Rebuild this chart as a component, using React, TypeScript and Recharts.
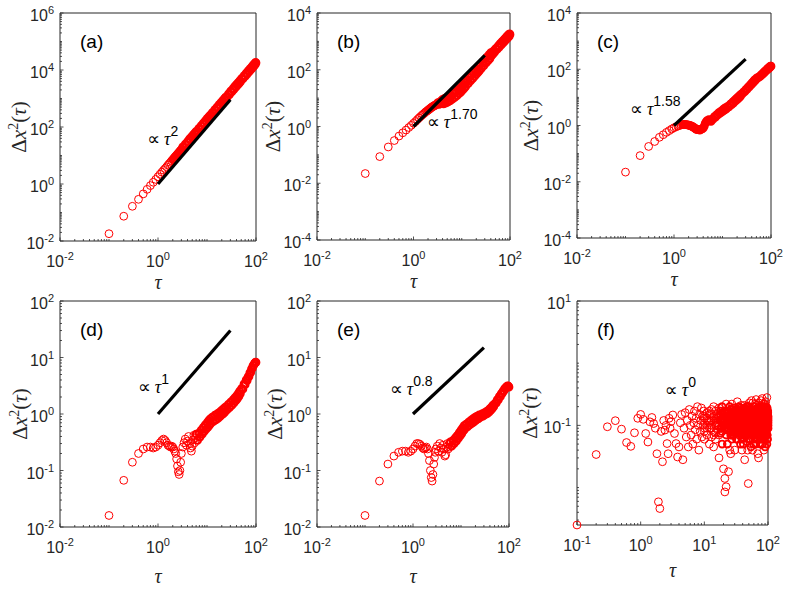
import React from "react";
import { ScatterChart, Scatter, XAxis, YAxis, Customized } from "recharts";

// lag times shared by panels (a)-(e)
const TAU = [
  0.1, 0.2, 0.3, 0.4, 0.5, 0.6, 0.7, 0.8, 0.9, 1.0,
  1.1, 1.2, 1.3, 1.4, 1.5, 1.6, 1.7, 1.8, 1.9, 2.0,
  2.1, 2.2, 2.3, 2.4, 2.5, 2.6, 2.7, 2.8, 2.9, 3.0,
  3.2, 3.4, 3.6, 3.8, 4.0, 4.2, 4.4, 4.6, 4.8, 5.0, 5.2, 5.4, 5.6, 5.8, 6.0,
  6.4, 6.8, 7.2, 7.6, 8.0, 8.4, 8.8, 9.2, 9.6, 10, 10.4, 10.8, 11.2, 11.6, 12,
  12.8, 13.6, 14.4, 15.2, 16, 16.8, 17.6, 18.4, 19.2, 20, 20.8, 21.6, 22.4, 23.2, 24,
  25.6, 27.2, 28.8, 30.4, 32, 33.6, 35.2, 36.8, 38.4, 40, 41.6, 43.2, 44.8, 46.4, 48,
  51, 54, 57, 60, 63, 66, 69, 72, 75, 78, 81, 84, 87, 90, 93, 96, 98, 100,
];

const MSD_A = [
  0.018, 0.074, 0.165, 0.29, 0.45, 0.65, 0.88, 1.15, 1.45, 1.8,
  2.2, 2.6, 3.05, 3.5, 4.0, 4.6, 5.2, 5.8, 6.5, 7.2,
  7.9, 8.7, 9.5, 10.4, 11.2, 12.2, 13.1, 14.1, 15.1, 16.2,
  20, 19, 25, 24, 31, 29, 38, 35, 45, 42, 53, 48, 61, 56, 70,
  68, 90, 86, 112, 106, 137, 128, 165, 152, 195, 180, 228, 208, 262, 238,
  320, 306, 405, 382, 500, 466, 605, 560, 720, 662, 845, 772, 980, 890, 1120,
  1085, 1440, 1370, 1800, 1700, 2200, 2050, 2640, 2440, 3110, 2870, 3630, 3320, 4190, 3820,
  5060, 4830, 6320, 5960, 7720, 7210, 9260, 8580, 10900, 10100, 12700, 11700, 14700, 13400, 16800, 15300, 18500, 17800,
];

const MSD_B = [
  0.022, 0.087, 0.19, 0.32, 0.46, 0.6, 0.75, 0.92, 1.1, 1.3,
  1.5, 1.75, 2.0, 2.25, 2.5, 2.75, 3.0, 3.3, 3.5, 3.8,
  4.0, 4.3, 4.5, 4.8, 5.0, 5.2, 5.4, 5.6, 5.8, 6.0,
  6.9, 6.0, 7.6, 6.5, 9.1, 6.3, 9.8, 6.7, 10.4, 7.1, 11.0, 7.6, 11.7, 8.2, 12.8,
  9.2, 14.6, 10.7, 17.0, 12.3, 19.8, 14.3, 22.8, 16.4, 26.2, 19.0, 30.5, 22.0, 35.0, 25.2,
  42.7, 32.4, 53.7, 40.2, 65.9, 48.4, 79.3, 58.2, 94, 68.9, 110, 79.5, 127, 91.8, 146,
  112, 188, 141, 234, 174, 284, 209, 339, 248, 399, 317, 416, 364, 476, 416,
  569, 518, 700, 630, 843, 752, 997, 882, 1163, 1023, 1340, 1172, 1528, 1330, 1727, 1500, 1850, 1760,
];

const MSD_C = [
  0.022, 0.085, 0.18, 0.27, 0.38, 0.47, 0.57, 0.66, 0.75, 0.83,
  0.9, 0.95, 1.0, 1.05, 1.08, 1.1, 1.1, 1.08, 1.05, 1.02,
  1.0, 0.98, 0.95, 0.92, 0.88, 0.84, 0.8, 0.76, 0.73, 0.72,
  0.71, 0.69, 0.72, 0.76, 0.8, 0.95, 1.2, 1.35, 1.5, 1.45, 1.6, 1.45, 1.5, 1.4, 1.65,
  1.7, 2.05, 2.0, 2.45, 2.4, 2.85, 2.7, 3.2, 3.0, 3.55, 3.3, 3.95, 3.6, 4.3, 3.9,
  4.8, 4.6, 5.7, 5.4, 6.7, 6.3, 7.8, 7.3, 9.0, 8.3, 10.2, 9.4, 11.5, 10.6, 12.9,
  13.2, 15.8, 16.0, 19.2, 19.3, 23.0, 23.0, 27.4, 27.0, 32.2, 31.4, 37.4, 36.0, 42.8, 41.0,
  49, 49, 55, 56, 64, 64, 75, 74, 86, 85, 98, 96, 110, 106, 122, 118, 130, 128,
];

const MSD_D = [
  0.016, 0.067, 0.14, 0.2, 0.24, 0.26, 0.26, 0.25, 0.26, 0.28,
  0.31, 0.34, 0.36, 0.34, 0.31, 0.28, 0.27, 0.26, 0.27, 0.26,
  0.24, 0.22, 0.2, 0.16, 0.12, 0.095, 0.085, 0.1, 0.14, 0.2,
  0.26, 0.31, 0.36, 0.28, 0.33, 0.4, 0.3, 0.25, 0.22, 0.27, 0.35, 0.42, 0.31, 0.38, 0.44,
  0.34, 0.46, 0.39, 0.52, 0.44, 0.58, 0.49, 0.64, 0.54, 0.7, 0.58, 0.76, 0.63, 0.82, 0.68,
  0.88, 0.74, 0.95, 0.79, 1.0, 0.84, 1.06, 0.9, 1.13, 0.96, 1.2, 1.02, 1.27, 1.08, 1.34,
  1.18, 1.48, 1.3, 1.62, 1.42, 1.77, 1.55, 1.93, 1.7, 2.1, 1.86, 2.3, 2.05, 2.55, 2.3,
  2.85, 2.75, 3.4, 3.3, 4.0, 3.9, 4.6, 4.6, 5.4, 5.4, 6.3, 6.4, 7.2, 7.3, 7.9, 8.0, 8.3, 8.2,
];

const MSD_E = [
  0.016, 0.065, 0.13, 0.18, 0.21, 0.22, 0.22, 0.21, 0.22, 0.24,
  0.27, 0.3, 0.3, 0.29, 0.27, 0.25, 0.24, 0.25, 0.26, 0.24,
  0.2, 0.15, 0.1, 0.075, 0.065, 0.085, 0.13, 0.17, 0.21, 0.24,
  0.27, 0.22, 0.3, 0.25, 0.21, 0.28, 0.24, 0.18, 0.19, 0.26, 0.3, 0.24, 0.29, 0.26, 0.32,
  0.27, 0.34, 0.3, 0.38, 0.33, 0.42, 0.37, 0.47, 0.41, 0.52, 0.45, 0.57, 0.5, 0.62, 0.54,
  0.66, 0.59, 0.72, 0.64, 0.77, 0.68, 0.82, 0.72, 0.86, 0.76, 0.9, 0.8, 0.93, 0.83, 0.96,
  0.88, 1.0, 0.92, 1.05, 0.97, 1.1, 1.02, 1.16, 1.08, 1.24, 1.16, 1.33, 1.25, 1.43, 1.35,
  1.55, 1.55, 1.8, 1.78, 2.05, 2.02, 2.3, 2.3, 2.55, 2.55, 2.8, 2.8, 3.0, 3.05, 3.15, 3.1, 3.1, 3.0,
];

// panel (f): sparse early part
const TAU_F = [
  0.1, 0.2, 0.3, 0.4, 0.5, 0.6, 0.7, 0.8, 0.9, 1.0,
  1.1, 1.2, 1.3, 1.4, 1.5, 1.6, 1.7, 1.8, 1.9, 2.0,
  2.1, 2.2, 2.3, 2.4, 2.5, 2.6, 2.7, 2.8, 2.9, 3.0,
  3.2, 3.4, 3.6, 3.8, 4.0, 4.2, 4.4, 4.6, 4.8, 5.0,
  5.2, 5.4, 5.6, 5.8, 6.0, 6.2, 6.4, 6.6, 6.8, 7.0,
  7.2, 7.4, 7.6, 7.8, 8.0, 8.2, 8.4, 8.6, 8.8, 9.0,
  9.2, 9.4, 9.6, 9.8,
];

const MSD_F = [
  0.0025, 0.034, 0.095, 0.119, 0.087, 0.053, 0.046, 0.076, 0.13, 0.15,
  0.125, 0.074, 0.054, 0.114, 0.134, 0.107, 0.09, 0.035, 0.0059, 0.0046,
  0.08, 0.026, 0.12, 0.084, 0.1, 0.051, 0.035, 0.13, 0.09, 0.115,
  0.147, 0.074, 0.051, 0.031, 0.045, 0.11, 0.15, 0.028, 0.09, 0.16,
  0.065, 0.12, 0.045, 0.18, 0.1, 0.07, 0.14, 0.05, 0.11, 0.17,
  0.085, 0.13, 0.06, 0.2, 0.1, 0.04, 0.15, 0.08, 0.12, 0.19,
  0.065, 0.14, 0.1, 0.17,
];

// panel (f): dense cloud, several readings per lag (10..100)
const TAU_F_DENSE = [
  10, 11, 12, 13, 14, 15, 16, 17, 18, 19,
  20, 21, 22, 23, 24, 25, 26, 27, 28, 29,
  30, 31, 32, 33, 34, 35, 36, 37, 38, 39,
  40, 41, 42, 43, 44, 45, 46, 47, 48, 49,
  50, 51, 52, 53, 54, 55, 56, 57, 58, 59,
  60, 61, 62, 63, 64, 65, 66, 67, 68, 69,
  70, 71, 72, 73, 74, 75, 76, 77, 78, 79,
  80, 81, 82, 83, 84, 85, 86, 87, 88, 89,
  90, 91, 92, 93, 94, 95, 96, 97, 98, 99,
  100,
];

const MSD_F_1 = [
  0.11, 0.07, 0.15, 0.09, 0.2, 0.06, 0.13, 0.1, 0.17, 0.05,
  0.12, 0.0085, 0.22, 0.09, 0.14, 0.04, 0.11, 0.16, 0.07, 0.19,
  0.1, 0.13, 0.06, 0.24, 0.09, 0.12, 0.15, 0.05, 0.1, 0.18,
  0.08, 0.14, 0.11, 0.21, 0.07, 0.13, 0.09, 0.16, 0.04, 0.0116,
  0.2, 0.1, 0.06, 0.15, 0.11, 0.25, 0.08, 0.13, 0.17, 0.05,
  0.1, 0.14, 0.09, 0.22, 0.12, 0.07, 0.16, 0.1, 0.19, 0.06,
  0.13, 0.11, 0.23, 0.08, 0.15, 0.1, 0.05, 0.18, 0.12, 0.09,
  0.14, 0.27, 0.07, 0.11, 0.16, 0.1, 0.2, 0.06, 0.13, 0.09,
  0.17, 0.12, 0.24, 0.08, 0.15, 0.11, 0.05, 0.19, 0.1, 0.14,
  0.13,
];

const MSD_F_2 = [
  0.06, 0.13, 0.09, 0.18, 0.045, 0.1, 0.14, 0.07, 0.12, 0.2,
  0.02, 0.16, 0.0103, 0.11, 0.09, 0.15, 0.035, 0.13, 0.1, 0.07,
  0.17, 0.12, 0.09, 0.06, 0.14, 0.2, 0.1, 0.08, 0.13, 0.04,
  0.16, 0.11, 0.07, 0.19, 0.09, 0.12, 0.055, 0.15, 0.1, 0.14,
  0.08, 0.23, 0.11, 0.06, 0.13, 0.09, 0.17, 0.04, 0.12, 0.1,
  0.2, 0.07, 0.15, 0.11, 0.05, 0.14, 0.09, 0.21, 0.12, 0.08,
  0.16, 0.03, 0.1, 0.13, 0.19, 0.07, 0.12, 0.09, 0.25, 0.11,
  0.06, 0.15, 0.1, 0.18, 0.08, 0.13, 0.04, 0.16, 0.11, 0.22,
  0.09, 0.14, 0.07, 0.12, 0.2, 0.1, 0.17, 0.06, 0.15, 0.12,
  0.11,
];

const MSD_F_3 = [
  0.14, 0.1, 0.05, 0.12, 0.08, 0.17, 0.11, 0.03, 0.15, 0.09,
  0.13, 0.014, 0.07, 0.1, 0.018, 0.12, 0.08, 0.22, 0.1, 0.14,
  0.04, 0.11, 0.18, 0.09, 0.13, 0.07, 0.16, 0.1, 0.21, 0.06,
  0.12, 0.15, 0.09, 0.028, 0.13, 0.17, 0.1, 0.08, 0.2, 0.12,
  0.06, 0.14, 0.1, 0.17, 0.045, 0.12, 0.09, 0.15, 0.23, 0.11,
  0.08, 0.13, 0.18, 0.1, 0.07, 0.26, 0.12, 0.09, 0.14, 0.035,
  0.11, 0.16, 0.08, 0.13, 0.1, 0.2, 0.06, 0.15, 0.12, 0.09,
  0.18, 0.11, 0.05, 0.14, 0.1, 0.22, 0.08, 0.13, 0.16, 0.1,
  0.045, 0.12, 0.19, 0.09, 0.15, 0.11, 0.28, 0.07, 0.13, 0.1,
  0.12,
];

const MSD_F_4 = [
  0.09, 0.16, 0.12, 0.065, 0.14, 0.11, 0.085, 0.19, 0.075, 0.13,
  0.1, 0.17, 0.14, 0.05, 0.12, 0.2, 0.095, 0.06, 0.15, 0.11,
  0.13, 0.075, 0.14, 0.11, 0.16, 0.09, 0.13, 0.19, 0.07, 0.12,
  0.1, 0.05, 0.17, 0.12, 0.1, 0.085, 0.2, 0.11, 0.14, 0.075,
  0.13, 0.09, 0.18, 0.11, 0.14, 0.07, 0.13, 0.1, 0.085, 0.16,
  0.12, 0.1, 0.06, 0.16, 0.14, 0.11, 0.075, 0.13, 0.1, 0.18,
  0.085, 0.13, 0.15, 0.11, 0.065, 0.14, 0.17, 0.1, 0.07, 0.15,
  0.11, 0.09, 0.16, 0.07, 0.13, 0.06, 0.11, 0.14, 0.09, 0.17,
  0.12, 0.07, 0.15, 0.16, 0.085, 0.13, 0.1, 0.14, 0.06, 0.16,
  0.09,
];

const MSD_F_5 = [
  0.08, 0.12, 0.17, 0.1, 0.13, 0.075, 0.15, 0.12, 0.09, 0.16,
  0.11, 0.14, 0.085, 0.17, 0.12, 0.1, 0.18, 0.07, 0.13, 0.1,
  0.15, 0.08, 0.12, 0.14, 0.1, 0.17, 0.075, 0.13, 0.11, 0.16,
  0.09, 0.12, 0.15, 0.1, 0.18, 0.08, 0.13, 0.11, 0.16, 0.09,
  0.14, 0.12, 0.075, 0.17, 0.1, 0.13, 0.15, 0.09, 0.12, 0.16,
  0.11, 0.08, 0.14, 0.12, 0.17, 0.1, 0.13, 0.075, 0.15, 0.11,
  0.09, 0.14, 0.12, 0.17, 0.1, 0.13, 0.08, 0.16, 0.11, 0.14,
  0.1, 0.15, 0.12, 0.085, 0.18, 0.11, 0.13, 0.09, 0.16, 0.12,
  0.14, 0.1, 0.17, 0.11, 0.075, 0.13, 0.15, 0.1, 0.12, 0.17,
  0.1,
];

const MSD_F_6 = [
  0.13, 0.09, 0.11, 0.15, 0.07, 0.12, 0.1, 0.14, 0.12, 0.08,
  0.15, 0.1, 0.13, 0.09, 0.16, 0.12, 0.07, 0.14, 0.11, 0.17,
  0.08, 0.14, 0.11, 0.1, 0.16, 0.12, 0.09, 0.15, 0.13, 0.07,
  0.13, 0.1, 0.08, 0.14, 0.11, 0.16, 0.1, 0.13, 0.08, 0.15,
  0.1, 0.16, 0.13, 0.09, 0.14, 0.11, 0.07, 0.15, 0.1, 0.13,
  0.16, 0.12, 0.1, 0.08, 0.13, 0.15, 0.11, 0.14, 0.09, 0.12,
  0.15, 0.1, 0.07, 0.12, 0.15, 0.09, 0.14, 0.11, 0.13, 0.08,
  0.16, 0.12, 0.09, 0.14, 0.11, 0.08, 0.15, 0.12, 0.1, 0.065,
  0.12, 0.16, 0.09, 0.14, 0.12, 0.1, 0.07, 0.15, 0.11, 0.09,
  0.14,
];

// guide lines  ∝ τ^α
const FIT_TAU = [1, 30];
const FIT_A = [1, 900];
const FIT_B = [1, 324];
const FIT_C = [1, 230];
const FIT_D = [1, 30];
const FIT_E = [1, 15];

// decade exponents that carry a label
const X_LABELS = [-2, 0, 2];
const X_LABELS_F = [-1, 0, 1, 2];
const Y_LABELS_A = [-2, 0, 2, 4, 6];
const Y_LABELS_BC = [-4, -2, 0, 2, 4];
const Y_LABELS_DE = [-2, -1, 0, 1, 2];
const Y_LABELS_F = [-1, 1];

const AXIS = "#262626";
const SANS = "'Liberation Sans', Arial, Helvetica, sans-serif";
const SERIF = "'Liberation Serif', 'DejaVu Serif', serif";

type Pt = { x: number; y: number };

const zip = (xs: number[], ys: number[]) =>
  ys.map((y, i) => ({ x: xs[i], y })).filter((d) => d.x != null);

// markers crowd together inside the dense zone; draw those with a heavier ring so they merge
const split = (pts: Pt[], dense: (d: Pt) => boolean, sw: number) => [
  { data: pts.filter((d) => !dense(d)), sw: 1 },
  { data: pts.filter(dense), sw },
];
const after = (t: number) => (d: Pt) => d.x >= t;
const cloudCore = (d: Pt) => d.x >= 18 && d.y >= 0.045 && d.y <= 0.2;

function logTicks(lo: number, hi: number) {
  const out: number[] = [];
  for (let k = Math.floor(Math.log10(lo)); k <= Math.ceil(Math.log10(hi)); k++) {
    for (let m = 1; m < 10; m++) {
      const v = +(m * Math.pow(10, k)).toPrecision(6);
      if (v >= lo * 0.999 && v <= hi * 1.001) out.push(v);
    }
  }
  return out;
}

function makeTick(side: string, labels: number[], showLabel: boolean) {
  return (props: any) => {
    const { x, y, payload } = props;
    const e = Math.log10(payload.value);
    const exp = labels.find((k) => Math.abs(k - e) < 1e-6);
    const major = exp !== undefined;
    const len = major ? 3.5 : 2;
    let x2 = x;
    let y2 = y;
    if (side === "bottom") y2 = y - len;
    if (side === "top") y2 = y + len;
    if (side === "left") x2 = x + len;
    if (side === "right") x2 = x - len;
    return (
      <g>
        <line x1={x} y1={y} x2={x2} y2={y2} stroke={AXIS} strokeWidth={0.8} />
        {showLabel && major && side === "bottom" && (
          <text x={x} y={y + 26} textAnchor="middle" fontFamily={SANS} fontSize={16} fill={AXIS}>
            10<tspan dy={-7} fontSize={11}>{String(exp)}</tspan>
          </text>
        )}
        {showLabel && major && side === "left" && (
          <text x={x - 6} y={y + 8} textAnchor="end" fontFamily={SANS} fontSize={16} fill={AXIS}>
            10<tspan dy={-7} fontSize={11}>{String(exp)}</tspan>
          </text>
        )}
      </g>
    );
  };
}

const ringOf = (sw: number) => (p: any) => (
  <circle cx={p.cx} cy={p.cy} r={4.4 - sw / 2} fill="none" stroke="#ff0000" strokeWidth={sw} />
);
const noDot = () => <g />;

function Frame(props: any) {
  const { p } = props;
  const L = p.plot.left;
  const T = p.plot.top;
  const W = p.plot.right - p.plot.left;
  const H = p.plot.bottom - p.plot.top;
  return (
    <g>
      <text x={L + 20} y={T + 35} fontFamily={SANS} fontSize={19} fill="#000">
        {p.letter}
      </text>
      <text
        x={L + W / 2}
        y={T + H + p.xTitleDy}
        textAnchor="middle"
        fontFamily={SERIF}
        fontStyle="italic"
        fontSize={20}
        fill={AXIS}
      >
        τ
      </text>
      <text
        transform={`translate(${L - p.yTitleDx}, ${T + H / 2}) rotate(-90)`}
        textAnchor="middle"
        fontFamily={SERIF}
        fontSize={21}
        fill={AXIS}
      >
        Δ<tspan fontStyle="italic">x</tspan>
        <tspan dy={-8} fontSize={14}>2</tspan>
        <tspan dy={8}>(</tspan>
        <tspan fontStyle="italic">τ</tspan>)
      </text>
    </g>
  );
}

function noteShape(exp: string) {
  return (p: any) => (
    <text x={p.cx} y={p.cy} fontFamily={SANS} fontSize={18} fill="#000">
      <tspan fontFamily="'DejaVu Sans', sans-serif">∝</tspan>
      <tspan dx={4} fontFamily={SERIF} fontStyle="italic">τ</tspan>
      <tspan dy={-9} fontSize={14}>{exp}</tspan>
    </text>
  );
}

// plot boxes are given in each cell's own coordinates
const PANELS = [
  {
    id: "a", letter: "(a)", left: 0, top: 0, width: 263, height: 296,
    plot: { left: 60, top: 13, right: 256, bottom: 241 },
    xDomain: [0.01, 100], yDomain: [0.01, 1e6], xLabels: X_LABELS, yLabels: Y_LABELS_A,
    series: split(zip(TAU, MSD_A), after(2), 2.2), fit: zip(FIT_TAU, FIT_A),
    note: { x: 0.6, y: 23, exp: "2" }, xTitleDy: 48, yTitleDx: 34,
  },
  {
    id: "b", letter: "(b)", left: 263, top: 0, width: 260, height: 296,
    plot: { left: 54, top: 13, right: 247, bottom: 240 },
    xDomain: [0.01, 100], yDomain: [1e-4, 1e4], xLabels: X_LABELS, yLabels: Y_LABELS_BC,
    series: split(zip(TAU, MSD_B), after(2), 2.2), fit: zip(FIT_TAU, FIT_B),
    note: { x: 1.9, y: 0.9, exp: "1.70" }, xTitleDy: 48, yTitleDx: 37,
  },
  {
    id: "c", letter: "(c)", left: 523, top: 0, width: 266, height: 296,
    plot: { left: 54, top: 13, right: 248, bottom: 238 },
    xDomain: [0.01, 100], yDomain: [1e-4, 1e4], xLabels: X_LABELS, yLabels: Y_LABELS_BC,
    series: split(zip(TAU, MSD_C), after(1.5), 2.2), fit: zip(FIT_TAU, FIT_C),
    note: { x: 0.124, y: 2.4, exp: "1.58" }, xTitleDy: 48, yTitleDx: 39,
  },
  {
    id: "d", letter: "(d)", left: 0, top: 296, width: 263, height: 296,
    plot: { left: 60, top: 5, right: 256, bottom: 231 },
    xDomain: [0.01, 100], yDomain: [0.01, 100], xLabels: X_LABELS, yLabels: Y_LABELS_DE,
    series: split(zip(TAU, MSD_D), after(6), 2.2), fit: zip(FIT_TAU, FIT_D),
    note: { x: 0.39, y: 2.35, exp: "1" }, xTitleDy: 56, yTitleDx: 33,
  },
  {
    id: "e", letter: "(e)", left: 263, top: 296, width: 260, height: 296,
    plot: { left: 54, top: 5, right: 246, bottom: 231 },
    xDomain: [0.01, 100], yDomain: [0.01, 100], xLabels: X_LABELS, yLabels: Y_LABELS_DE,
    series: split(zip(TAU, MSD_E), after(6), 2.2), fit: zip(FIT_TAU, FIT_E),
    note: { x: 0.33, y: 2.2, exp: "0.8" }, xTitleDy: 56, yTitleDx: 35,
  },
  {
    id: "f", letter: "(f)", left: 523, top: 296, width: 266, height: 296,
    plot: { left: 54, top: 5, right: 245, bottom: 229 },
    xDomain: [0.1, 100], yDomain: [0.0025, 10], xLabels: X_LABELS_F, yLabels: Y_LABELS_F,
    series: [
      { data: zip(TAU_F, MSD_F), sw: 1 },
      ...split(zip(TAU_F_DENSE, MSD_F_1), cloudCore, 1.9),
      ...split(zip(TAU_F_DENSE, MSD_F_2), cloudCore, 1.9),
      ...split(zip(TAU_F_DENSE, MSD_F_3), cloudCore, 1.9),
      ...split(zip(TAU_F_DENSE, MSD_F_4), cloudCore, 1.9),
      ...split(zip(TAU_F_DENSE, MSD_F_5), cloudCore, 1.9),
      ...split(zip(TAU_F_DENSE, MSD_F_6), cloudCore, 1.9),
    ],
    fit: null,
    note: { x: 2.4, y: 0.3, exp: "0" }, xTitleDy: 52, yTitleDx: 40,
  },
];

function Panel({ p }: { p: any }) {
  const xTicks = logTicks(p.xDomain[0], p.xDomain[1]);
  const yTicks = logTicks(p.yDomain[0], p.yDomain[1]);
  // each axis takes 1px, so margins stop 1px short of the plot box
  const margin = {
    top: p.plot.top - 1,
    left: p.plot.left - 1,
    right: p.width - p.plot.right - 1,
    bottom: p.height - p.plot.bottom - 1,
  };
  const axisCommon = {
    type: "number" as const,
    scale: "log" as const,
    tickLine: false,
    tickSize: 0,
    tickMargin: 0,
    interval: 0 as const,
    axisLine: { stroke: AXIS, strokeWidth: 1 },
  };
  return (
    <div style={{ position: "absolute", left: p.left, top: p.top }}>
      <ScatterChart width={p.width} height={p.height} margin={margin}>
        <XAxis {...axisCommon} dataKey="x" domain={p.xDomain} ticks={xTicks} height={1}
          tick={makeTick("bottom", p.xLabels, true)} />
        <XAxis {...axisCommon} xAxisId="top" orientation="top" domain={p.xDomain} ticks={xTicks}
          height={1} tick={makeTick("top", p.xLabels, false)} />
        <YAxis {...axisCommon} dataKey="y" domain={p.yDomain} ticks={yTicks} width={1}
          tick={makeTick("left", p.yLabels, true)} />
        <YAxis {...axisCommon} yAxisId="right" orientation="right" domain={p.yDomain}
          ticks={yTicks} width={1} tick={makeTick("right", p.yLabels, false)} />
        <Scatter data={[]} xAxisId="top" yAxisId="right" shape={noDot} isAnimationActive={false} />
        {p.series.map((s: any, i: number) => (
          <Scatter key={i} data={s.data} shape={ringOf(s.sw)} isAnimationActive={false} />
        ))}
        {p.fit && (
          <Scatter data={p.fit} line={{ stroke: "#000", strokeWidth: 3.2 }} shape={noDot}
            isAnimationActive={false} />
        )}
        <Scatter data={[{ x: p.note.x, y: p.note.y }]} shape={noteShape(p.note.exp)}
          isAnimationActive={false} />
        <Customized component={<Frame p={p} />} />
      </ScatterChart>
    </div>
  );
}

export default function App() {
  return (
    <div style={{ position: "absolute", left: 0, top: 0, width: 789, height: 592, background: "#fff" }}>
      <style>{"svg{overflow:visible}"}</style>
      {PANELS.map((p) => (
        <Panel key={p.id} p={p} />
      ))}
    </div>
  );
}
